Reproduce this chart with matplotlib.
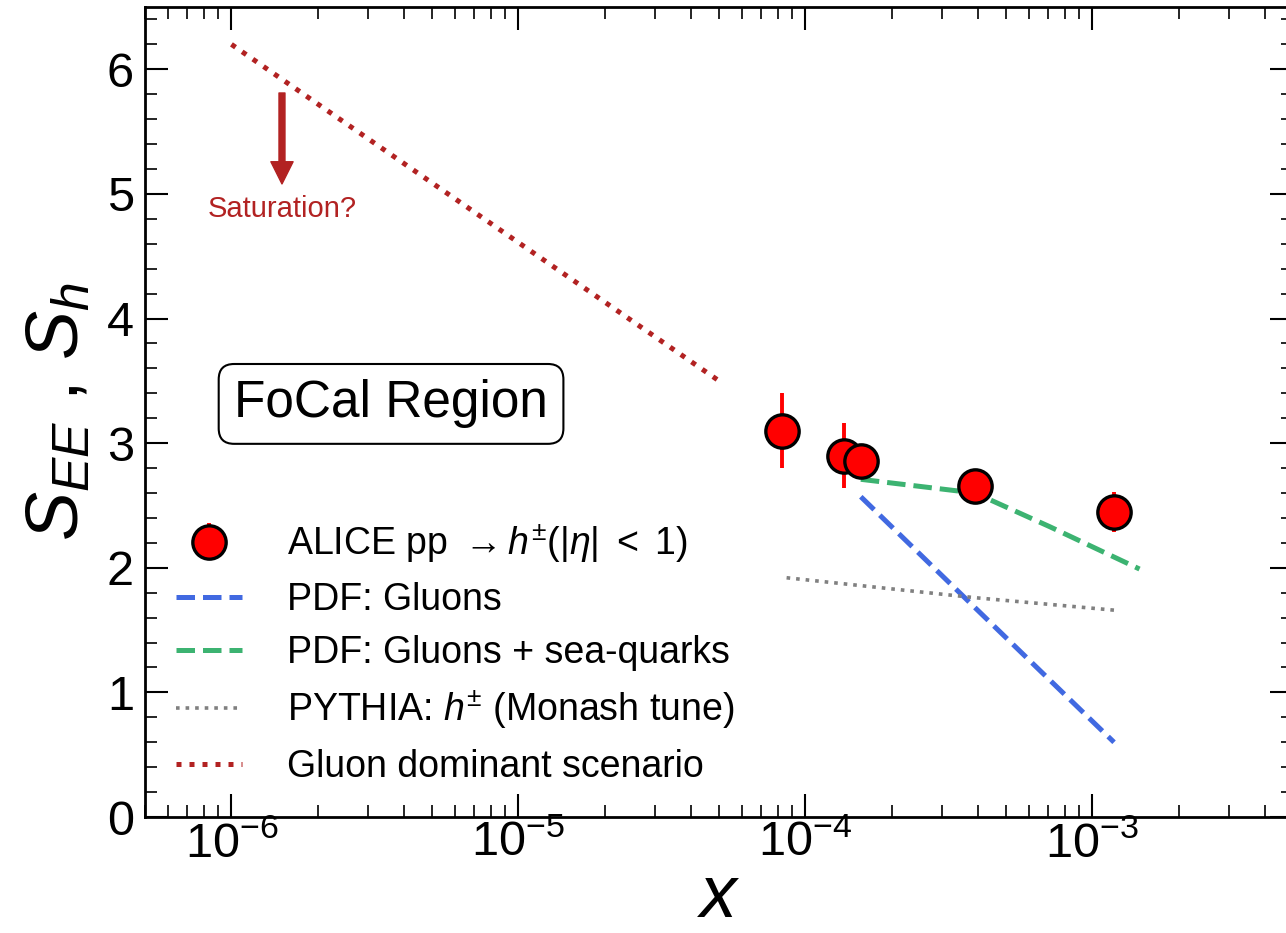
import matplotlib
matplotlib.use("Agg")
from matplotlib import pyplot as plt

plt.rcParams['font.family'] = ['Liberation Sans', 'DejaVu Sans']
plt.rcParams['mathtext.fontset'] = 'custom'
plt.rcParams['mathtext.rm'] = 'Liberation Sans'
plt.rcParams['mathtext.it'] = 'Liberation Sans:italic'
plt.rcParams['mathtext.bf'] = 'Liberation Sans:bold'

# ALICE pp -> h+- data
alice_x = [8.3e-5, 1.36e-4, 1.56e-4, 3.9e-4, 1.19e-3]
alice_y = [3.10, 2.90, 2.86, 2.66, 2.45]
alice_err = [0.30, 0.26, 0.05, 0.05, 0.16]

# PDF: gluons
glu_x = [1.56e-4, 3.9e-4, 1.19e-3]
glu_y = [2.57, 1.68, 0.60]

# PDF: gluons + sea quarks
sea_x = [1.56e-4, 3.9e-4, 7.1e-4, 1.46e-3]
sea_y = [2.71, 2.60, 2.33, 1.99]

# PYTHIA Monash
pyt_x = [8.6e-5, 3.9e-4, 1.19e-3]
pyt_y = [1.92, 1.76, 1.66]

# gluon dominant scenario
gd_x = [1e-6, 1e-5, 5e-5]
gd_y = [6.20, 4.61, 3.50]

fig = plt.figure(figsize=(12.86, 9.33), dpi=100)
ax = fig.add_axes([0.1128, 0.1243, 0.8926, 0.8682])

eb = ax.errorbar(alice_x, alice_y, yerr=alice_err, fmt='o', color='red',
                 ecolor='red', elinewidth=2.8, markersize=24,
                 markeredgecolor='black', markeredgewidth=2.4, zorder=5,
                 label=r'ALICE pp $\rightarrow h^{\pm}(|\eta|\ <\ 1)$')
l1, = ax.plot(glu_x, glu_y, '--', color='royalblue', lw=3.6, label='PDF: Gluons')
l2, = ax.plot(sea_x, sea_y, '--', color='mediumseagreen', lw=3.6,
              label='PDF: Gluons + sea-quarks')
l3, = ax.plot(pyt_x, pyt_y, ':', color='gray', lw=2.6,
              label=r'PYTHIA: $h^{\pm}$ (Monash tune)')
l4, = ax.plot(gd_x, gd_y, linestyle=(0, (1, 1.6)), color='firebrick', lw=3.6,
              label='Gluon dominant scenario')

ax.set_xscale('log')
ax.set_xlim(5e-7, 5e-3)
ax.set_ylim(0, 6.5)
ax.set_yticks([0, 1, 2, 3, 4, 5, 6])
ax.yaxis.set_minor_locator(matplotlib.ticker.MultipleLocator(0.2))

ax.tick_params(which='both', direction='in', top=True, right=True)
ax.tick_params(which='major', length=16.5, width=1.5, labelsize=35)
ax.tick_params(which='minor', length=8.5, width=1.2)
ax.tick_params(axis='x', which='major', pad=3)
ax.tick_params(axis='y', which='major', pad=8)
for s in ax.spines.values():
    s.set_linewidth(2)

ax.set_xlabel(r'$x$', fontsize=53, labelpad=-3)
ax.set_ylabel(r'$S_{EE}$ , $S_{h}$', fontsize=53, labelpad=10)

ax.annotate('', xy=(1.5e-6, 5.08), xytext=(1.5e-6, 5.81),
            arrowprops=dict(facecolor='firebrick', edgecolor='firebrick',
                            width=4.3, headwidth=16, headlength=16, shrink=0))
ax.text(1.5e-6, 4.88, 'Saturation?', color='firebrick', fontsize=21,
        ha='center', va='center')

ax.text(0.2143, 0.51, 'FoCal Region', transform=ax.transAxes, fontsize=37,
        ha='center', va='center',
        bbox=dict(boxstyle='round,pad=0.3', facecolor='white',
                  edgecolor='black', linewidth=1.5))

ax.legend(handles=[eb, l1, l2, l3, l4], loc='lower left',
          bbox_to_anchor=(0.027, 0.04), frameon=False, fontsize=27,
          handlelength=1.75, handletextpad=1.2, labelspacing=0.46,
          borderaxespad=0, borderpad=0)

fig.savefig('out.png', dpi=100)
